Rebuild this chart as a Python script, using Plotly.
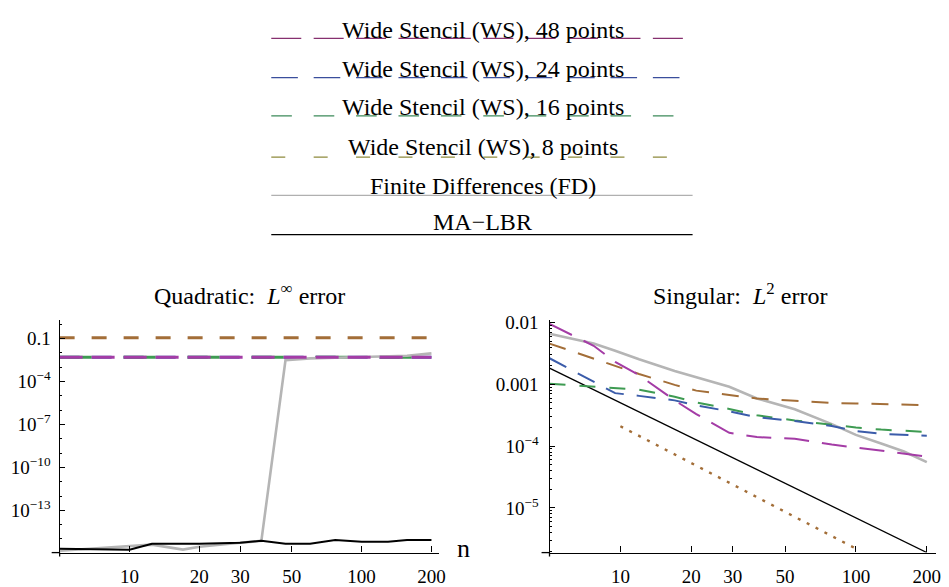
import numpy as np
import plotly.graph_objects as go

# ---------------- data ----------------
# Quadratic: L-infinity error
quad_n = [5, 10, 12.5, 17, 20, 30, 37, 47, 60, 77, 100, 130, 157, 200]
quad_ws48 = [0.005] * 14
quad_ws24 = [0.005] * 14
quad_ws16 = [0.005] * 14
quad_ws8 = [0.117] * 14
quad_fd = [1.5e-16, 3.4e-16, 4.0e-16, 1.8e-16, 2.9e-16, 5.4e-16, 7.4e-16,
           3.1e-3, 4.2e-3, 4.6e-3, 5.0e-3, 5.4e-3, 6.4e-3, 9.4e-3]
quad_malbr = [2.1e-16, 1.8e-16, 4.7e-16, 4.7e-16, 4.7e-16, 5.4e-16, 7.4e-16,
              4.7e-16, 4.7e-16, 8.6e-16, 6.3e-16, 6.3e-16, 8.6e-16, 8.6e-16]

# Singular: L2 error
sing_n = [5, 7.7, 9.5, 12, 17, 21, 29, 38, 55, 79, 100, 128, 160, 200]
sing_ws48 = [9.5e-3, 4.2e-3, 2.3e-3, 1.41e-3, 5.5e-4, 3.3e-4, 1.64e-4, 1.40e-4,
             1.32e-4, 1.06e-4, 9.5e-5, 8.5e-5, 7.6e-5, 6.8e-5]
sing_ws24 = [2.64e-3, 1.1e-3, 7.2e-4, 6.5e-4, 5.5e-4, 4.56e-4, 3.66e-4, 2.94e-4,
             2.54e-4, 2.12e-4, 1.76e-4, 1.58e-4, 1.52e-4, 1.47e-4]
sing_ws16 = [1.02e-3, 9.1e-4, 8.6e-4, 8.2e-4, 6.3e-4, 5.1e-4, 4.0e-4, 3.16e-4,
             2.6e-4, 2.2e-4, 2.0e-4, 1.85e-4, 1.76e-4, 1.7e-4]
sing_ws8 = [4.56e-3, 2.6e-3, 1.95e-3, 1.47e-3, 9.8e-4, 7.9e-4, 6.7e-4, 5.9e-4,
            5.4e-4, 5.0e-4, 4.9e-4, 4.8e-4, 4.7e-4, 4.6e-4]
sing_fd = [6.56e-3, 4.56e-3, 3.5e-3, 2.54e-3, 1.64e-3, 1.31e-3, 9.1e-4, 5.9e-4,
           3.94e-4, 2.27e-4, 1.52e-4, 1.1e-4, 8.2e-5, 5.5e-5]
sing_malbr = [1.83e-3, 8.2e-4, 5.5e-4, 3.58e-4, 1.86e-4, 1.27e-4, 6.9e-5, 4.2e-5,
              2.1e-5, 1.06e-5, 6.9e-6, 4.4e-6, 2.9e-6, 1.9e-6]
ref_n = [10, 100]
ref_slope2 = [2.1e-4, 2.2e-6]

legend_labels = ["Wide Stencil (WS), 48 points", "Wide Stencil (WS), 24 points",
                 "Wide Stencil (WS), 16 points", "Wide Stencil (WS), 8 points",
                 "Finite Differences (FD)", "MA\u2212LBR"]

x_ticks = [10, 20, 30, 50, 100, 200]
quad_yticks = [0.1, 1e-4, 1e-7, 1e-10, 1e-13]
quad_yticktext = ["0.1", "10<sup>\u22124</sup>", "10<sup>\u22127</sup>",
                  "10<sup>\u221210</sup>", "10<sup>\u221213</sup>"]
sing_yticks = [0.01, 0.001, 1e-4, 1e-5]
sing_yticktext = ["0.01", "0.001", "10<sup>\u22124</sup>", "10<sup>\u22125</sup>"]

# ---------------- styles ----------------
C48, C24, C16, C8 = "#A43CA6", "#3B5CAA", "#3E9B52", "#A36E38"
CFD, CMA = "#B5B5B5", "#000000"
LEG_COL = ["#86306F", "#3A4E9C", "#3D8A5A", "#8E8A3C", "#B0B0B0", "#000000"]
LEG_DASH = ["30px,12.4px", "26.6px,15.8px", "20.6px,21.8px", "14px,28.4px", "solid", "solid"]

FONT = "Liberation Serif, Times New Roman, serif"
W, H = 949, 587

def px(x):
    return x / W

def py(y):
    return 1 - y / H

fig = go.Figure()

def add(xs, ys, color, width, dash, ax):
    fig.add_trace(go.Scatter(x=xs, y=ys, mode="lines",
                             line=dict(color=color, width=width, dash=dash),
                             xaxis="x" if ax == 1 else "x2",
                             yaxis="y" if ax == 1 else "y2",
                             showlegend=False, hoverinfo="skip"))

# left panel
add(quad_n, quad_ws8, C8, 3, "15px,17px", 1)
add(quad_n, quad_ws24, C24, 3, "20px,12px", 1)
add(quad_n, quad_ws16, C16, 3, "32px,32px", 1)
add(quad_n, quad_fd, CFD, 2.6, "solid", 1)
add(quad_n, quad_ws48, C48, 3, "23px,9px", 1)
add(quad_n, quad_malbr, CMA, 2, "solid", 1)

# right panel
add(ref_n, ref_slope2, C8, 2.4, "3px,7px", 2)
add(sing_n, sing_malbr, CMA, 1.3, "solid", 2)
add(sing_n, sing_fd, CFD, 2.6, "solid", 2)
add(sing_n, sing_ws8, C8, 2, "17px,13px", 2)
add(sing_n, sing_ws16, C16, 2, "16px,14px", 2)
add(sing_n, sing_ws24, C24, 2, "19px,13px", 2)
add(sing_n, sing_ws48, C48, 2, "25px,13px", 2)

top_px, bot_px = 318, 555
ydom = [py(bot_px), py(top_px)]

axis_common = dict(type="log", showgrid=False, zeroline=False, showline=True,
                   linecolor="black", linewidth=1.3, ticks="inside", ticklen=6,
                   tickcolor="black", tickwidth=1.2,
                   tickfont=dict(family=FONT, size=19, color="black"))

fig.update_layout(
    width=W, height=H, margin=dict(l=0, r=0, t=0, b=0),
    paper_bgcolor="white", plot_bgcolor="white",
    font=dict(family=FONT, color="black"),
    xaxis=dict(axis_common, domain=[px(60), px(442)],
               range=[np.log10(5), np.log10(216)], anchor="y",
               tickmode="array", tickvals=x_ticks, ticktext=[str(v) for v in x_ticks],
               ticklabelstandoff=6),
    yaxis=dict(axis_common, domain=ydom, anchor="x",
               range=[-1 - (bot_px - 337) / 14.58, -1 + (337 - top_px) / 14.58],
               tickmode="array", tickvals=quad_yticks, ticktext=quad_yticktext,
               ticklen=5, ticklabelstandoff=4,
               minor=dict(ticks="inside", ticklen=2.5, dtick=1, tickcolor="black")),
    xaxis2=dict(axis_common, domain=[px(553), px(942)],
                range=[np.log10(5), np.log10(5) + 389 / 237], anchor="y2",
                tickmode="array", tickvals=x_ticks, ticktext=[str(v) for v in x_ticks],
                ticklabelstandoff=6),
    yaxis2=dict(axis_common, domain=ydom, anchor="x2",
                range=[-4 - (bot_px - 446.5) / 63, -4 + (446.5 - top_px) / 63],
                tickmode="array", tickvals=sing_yticks, ticktext=sing_yticktext,
                ticklen=5, ticklabelstandoff=6,
                minor=dict(ticks="inside", ticklen=2.5, dtick="D1", tickcolor="black")),
)

# legend block (lines behind centered text)
leg_line_y = [31, 71, 110, 152, 191, 231]
leg_text_y = [22, 62, 101, 142, 181, 218]
shapes = []
annos = []
for i, lab in enumerate(legend_labels):
    shapes.append(dict(type="line", xref="paper", yref="paper",
                       x0=px(273), x1=px(697), y0=py(leg_line_y[i]), y1=py(leg_line_y[i]),
                       line=dict(color=LEG_COL[i], width=1.2, dash=LEG_DASH[i])))
    annos.append(dict(xref="paper", yref="paper", x=px(486), y=py(leg_text_y[i]),
                      text=lab, showarrow=False, xanchor="center", yanchor="middle",
                      font=dict(family=FONT, size=24, color="black")))

# axis-line overhangs (Mathematica-style crossing axes)
for xa, xb, xy in [(52, 60, 60), (545, 553, 553)]:
    shapes.append(dict(type="line", xref="paper", yref="paper",
                       x0=px(xa), x1=px(xb), y0=py(bot_px), y1=py(bot_px),
                       line=dict(color="black", width=1.3)))
    shapes.append(dict(type="line", xref="paper", yref="paper",
                       x0=px(xy), x1=px(xy), y0=py(bot_px), y1=py(bot_px + 4),
                       line=dict(color="black", width=1.3)))

annos.append(dict(xref="paper", yref="paper", x=px(251), y=py(291),
                  text="Quadratic:  <i>L</i><sup>\u221e</sup> error", showarrow=False,
                  xanchor="center", yanchor="middle",
                  font=dict(family=FONT, size=24, color="black")))
annos.append(dict(xref="paper", yref="paper", x=px(745), y=py(291),
                  text="Singular:  <i>L</i><sup>2</sup> error", showarrow=False,
                  xanchor="center", yanchor="middle",
                  font=dict(family=FONT, size=24, color="black")))
annos.append(dict(xref="paper", yref="paper", x=px(466), y=py(551),
                  text="n", showarrow=False, xanchor="center", yanchor="middle",
                  font=dict(family=FONT, size=26, color="black")))

fig.update_layout(shapes=shapes, annotations=annos)
fig.write_html("out.html")
